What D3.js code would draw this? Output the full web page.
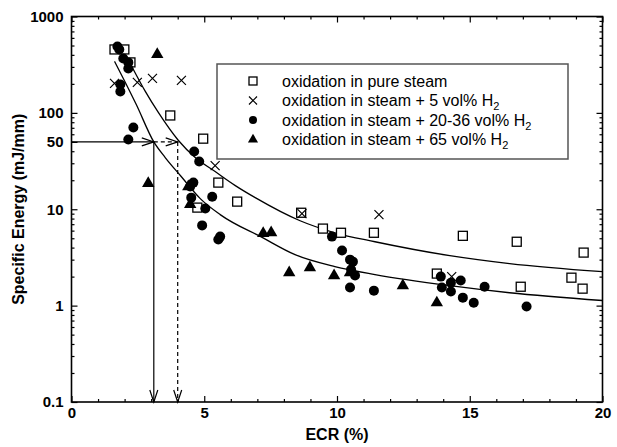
<!DOCTYPE html>
<html><head><meta charset="utf-8">
<script src="https://cdn.jsdelivr.net/npm/d3@7"></script>
<style>
body{margin:0;background:#fff}
svg{font-family:"Liberation Sans",Arial,sans-serif}
</style></head><body>
<svg width="617" height="447"></svg>
<script>
// values: [ECR %, specific energy mJ/mm]
var pureSteam = [[1.62,455],[1.99,455],[2.22,334],[3.72,94],[4.96,54],[5.53,18.9],[6.24,12.0],[4.74,10.4],
  [8.65,9.2],[9.47,6.3],[10.15,5.7],[11.39,5.7],[14.74,5.3],[16.77,4.6],[19.29,3.55],[13.76,2.15],
  [16.92,1.57],[18.83,1.95],[19.25,1.5]];
var steamH2_5 = [[1.62,202],[2.48,207],[3.05,228],[4.14,217],[5.41,28.4],[8.68,9.0],[11.58,8.8],[14.32,2.0]];
var steamH2_20 = [[1.73,489],[1.80,455],[1.95,367],[2.14,334],[2.14,289],[1.84,197],[1.84,167],[2.33,70.5],
  [2.14,53],[4.62,39.7],[4.81,31.3],[4.59,18.9],[4.47,17.2],[4.51,13.2],[5.30,13.5],[5.04,10.2],[4.92,6.8],
  [5.53,4.85],[5.60,5.2],[9.81,5.2],[10.19,3.73],[10.49,3.0],[10.60,2.86],[10.53,2.37],[10.68,2.05],
  [10.49,1.54],[11.39,1.43],[13.91,2.0],[14.29,1.73],[14.66,1.82],[13.95,1.54],[14.29,1.40],[14.74,1.21],
  [15.15,1.07],[15.56,1.57],[17.14,0.98]];
var steamH2_65 = [[3.23,404],[2.89,18.5],[4.40,17.2],[4.47,11.2],[7.22,5.6],[7.52,5.7],[8.20,2.2],[8.98,2.48],
  [9.89,2.05],[10.49,2.2],[12.48,1.61],[13.76,1.07]];
// fit curves, points
var fitUpper = [[2.29,296],[2.78,167],[3.27,101],[4.02,52],[4.66,34.4],[5.41,24.6],[6.17,17.6],[6.92,13.2],
  [8.61,7.6],[9.92,5.7],[11.43,4.6],[14.25,3.3],[16.5,2.73],[20,2.25]];
var fitLower = [[1.62,342],[1.99,217],[2.44,122],[3.1,50],[3.53,34.4],[4.10,22.4],[4.85,12.9],[5.60,8.8],
  [7.18,5.1],[8.42,3.38],[9.92,2.54],[11.43,2.1],[14.25,1.61],[16.5,1.36],[20,1.13]];
var ecrLow = 3.1, ecrHigh = 4.0, energyLevel = 50;

var xTicks = [0, 5, 10, 15, 20];
var yTicks = [0.1, 1, 10, 50, 100, 1000];
var legendLabels = [
  {type: "square", text: "oxidation in pure steam", sub: ""},
  {type: "cross", text: "oxidation in steam + 5 vol% H", sub: "2"},
  {type: "circle", text: "oxidation in steam + 20-36 vol% H", sub: "2"},
  {type: "triangle", text: "oxidation in steam + 65 vol% H", sub: "2"}
];

var svg = d3.select("svg"),
    pLeft = 71.5, pRight = 602.5, pTop = 16.5, pBottom = 402;

var x = d3.scaleLinear().domain([0, 20]).range([pLeft, pRight]);
var y = d3.scaleLog().domain([0.1, 1000]).range([pBottom, pTop]);

var minorY = [];
[0.1, 1, 10, 100].forEach(function(d) { for (var i = 2; i < 10; i++) minorY.push(d * i); });
var minorX = d3.range(0, 21).filter(function(d) { return d % 5 != 0; });

function tickStyle(g) {
  g.select(".domain").remove();
  g.selectAll("line").attr("stroke", "#000").attr("stroke-width", 1.2);
  g.selectAll("text").attr("fill", "#000").attr("font-size", 15).attr("font-weight", "bold")
    .attr("font-family", "'Liberation Sans', Arial, sans-serif");
}

// bottom & top x ticks (inward)
svg.append("g").attr("transform", "translate(0," + pBottom + ")")
  .call(d3.axisBottom(x).tickValues(xTicks).tickSize(-6).tickPadding(5).tickFormat(d3.format("d")))
  .call(tickStyle);
svg.append("g").attr("transform", "translate(0," + pBottom + ")")
  .call(d3.axisBottom(x).tickValues(minorX).tickSize(-3).tickFormat("")).call(tickStyle);
svg.append("g").attr("transform", "translate(0," + pTop + ")")
  .call(d3.axisTop(x).tickValues(xTicks).tickSize(-6).tickFormat("")).call(tickStyle);
svg.append("g").attr("transform", "translate(0," + pTop + ")")
  .call(d3.axisTop(x).tickValues(minorX).tickSize(-3).tickFormat("")).call(tickStyle);

// left & right y ticks
svg.append("g").attr("transform", "translate(" + pLeft + ",0)")
  .call(d3.axisLeft(y).tickValues(yTicks).tickSize(-6).tickPadding(8).tickFormat(function(d) { return String(d); }))
  .call(tickStyle);
svg.append("g").attr("transform", "translate(" + pLeft + ",0)")
  .call(d3.axisLeft(y).tickValues(minorY).tickSize(-3).tickFormat("")).call(tickStyle);
svg.append("g").attr("transform", "translate(" + pRight + ",0)")
  .call(d3.axisRight(y).tickValues([0.1, 1, 10, 100, 1000]).tickSize(-6).tickFormat("")).call(tickStyle);
svg.append("g").attr("transform", "translate(" + pRight + ",0)")
  .call(d3.axisRight(y).tickValues(minorY).tickSize(-3).tickFormat("")).call(tickStyle);

// frame
svg.append("rect")
  .attr("x", pLeft).attr("y", pTop)
  .attr("width", pRight - pLeft).attr("height", pBottom - pTop)
  .attr("fill", "none").attr("stroke", "#000").attr("stroke-width", 1.6);

// axis titles
svg.append("text")
  .attr("x", (pLeft + pRight) / 2).attr("y", 440)
  .attr("text-anchor", "middle").attr("font-size", 16).attr("font-weight", "bold")
  .text("ECR (%)");
svg.append("text")
  .attr("text-anchor", "middle")
  .attr("transform", "translate(24," + ((pTop + pBottom) / 2) + ")rotate(-90)")
  .attr("font-size", 16).attr("font-weight", "bold")
  .text("Specific Energy (mJ/mm)");

// fit curves
var line = d3.line()
  .curve(d3.curveMonotoneX)
  .x(function(d) { return x(d[0]); })
  .y(function(d) { return y(d[1]); });

[fitUpper, fitLower].forEach(function(c) {
  svg.append("path").datum(c)
    .attr("d", line)
    .attr("fill", "none").attr("stroke", "#000").attr("stroke-width", 1.3);
});

// guide lines with open arrow heads
function arrowHead(px, py, dir) {
  var len = 12, w = 4;
  var pts = dir == "right"
    ? [[px - len, py - w], [px, py], [px - len, py + w]]
    : [[px - w, py - len], [px, py], [px + w, py - len]];
  svg.append("path").attr("d", d3.line()(pts))
    .attr("fill", "none").attr("stroke", "#000").attr("stroke-width", 1.2);
}
function guide(x1, y1, x2, y2, dashed) {
  svg.append("line")
    .attr("x1", x(x1)).attr("y1", y(y1)).attr("x2", x(x2)).attr("y2", y(y2))
    .attr("stroke", "#000").attr("stroke-width", 1.2)
    .attr("stroke-dasharray", dashed ? "4,3" : null);
}
guide(0, energyLevel, ecrLow, energyLevel, false);
arrowHead(x(ecrLow), y(energyLevel), "right");
guide(ecrLow, energyLevel, ecrHigh, energyLevel, true);
arrowHead(x(ecrHigh), y(energyLevel), "right");
guide(ecrLow, energyLevel, ecrLow, 0.1, false);
arrowHead(x(ecrLow), pBottom, "down");
guide(ecrHigh, energyLevel, ecrHigh, 0.1, true);
arrowHead(x(ecrHigh), pBottom, "down");

// markers
function marker(g, type, s) {
  if (type == "square") {
    g.append("rect").attr("x", -s / 2).attr("y", -s / 2).attr("width", s).attr("height", s)
      .attr("fill", "#fff").attr("stroke", "#000").attr("stroke-width", 1.3);
  } else if (type == "cross") {
    var h = s / 2;
    g.append("path").attr("d", "M" + (-h) + "," + (-h) + "L" + h + "," + h + "M" + (-h) + "," + h + "L" + h + "," + (-h))
      .attr("stroke", "#000").attr("stroke-width", 1.2);
  } else if (type == "circle") {
    g.append("circle").attr("r", s / 2).attr("fill", "#000");
  } else {
    g.append("path").attr("d", d3.symbol().type(d3.symbolTriangle).size(s * s * 0.55))
      .attr("fill", "#000");
  }
}

function plotSeries(data, type, s) {
  svg.append("g").selectAll("g")
    .data(data)
    .enter().append("g")
      .attr("transform", function(d) { return "translate(" + x(d[0]) + "," + y(d[1]) + ")"; })
      .each(function() { marker(d3.select(this), type, s); });
}
plotSeries(pureSteam, "square", 9);
plotSeries(steamH2_5, "cross", 9);
plotSeries(steamH2_20, "circle", 10);
plotSeries(steamH2_65, "triangle", 11);

// legend
var legend = svg.append("g");
legend.append("rect")
  .attr("x", 217).attr("y", 64).attr("width", 351).attr("height", 95)
  .attr("fill", "#fff").attr("stroke", "#555").attr("stroke-width", 1.5);
var row = legend.selectAll(".row")
  .data(legendLabels)
  .enter().append("g")
    .attr("class", "row")
    .attr("transform", function(d, i) { return "translate(253," + (81 + i * 19.5) + ")"; });
row.each(function(d) {
  var sz = {square: 8, cross: 8, circle: 8, triangle: 9}[d.type];
  marker(d3.select(this), d.type, sz);
});
var label = row.append("text")
  .attr("x", 29).attr("dy", "0.36em")
  .attr("font-size", 16)
  .text(function(d) { return d.text; });
label.append("tspan")
  .attr("font-size", 11).attr("dy", 4)
  .text(function(d) { return d.sub; });
</script>
</body></html>
